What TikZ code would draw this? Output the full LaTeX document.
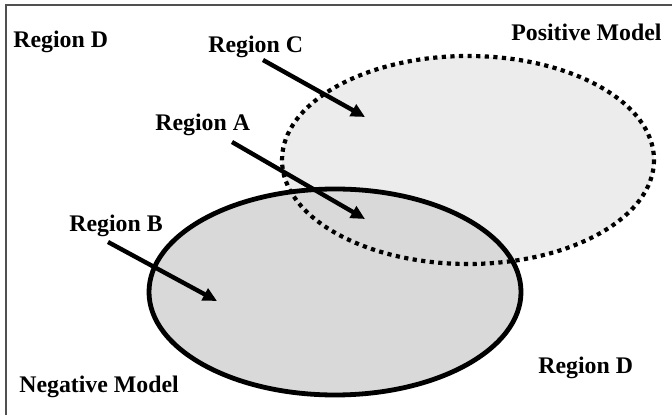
\documentclass[tikz,border=0pt]{standalone}
\usepackage{fontspec}
\setmainfont{Liberation Serif}
\usetikzlibrary{arrows.meta}
\definecolor{grisPos}{HTML}{ECECEC}
\definecolor{grisNeg}{HTML}{D9D9D9}
\definecolor{marco}{HTML}{505050}

\begin{document}
\begin{tikzpicture}[x=0.5pt,y=-0.5pt,>={Triangle[length=7pt,width=6.5pt]},
                    lbl/.style={anchor=base west,inner sep=0pt,
                      font=\fontsize{11.9}{14}\selectfont\bfseries},
                    flecha/.style={->,line width=2.2pt}]
  \useasboundingbox (0,0) rectangle (672,415);
  \draw[marco,line width=0.8pt] (6,5) rectangle (690,430);
  % the two models
  \fill[grisPos] (468,160) ellipse [x radius=186,y radius=104];
  \fill[grisNeg] (335,292) ellipse [x radius=186,y radius=103];
  \draw[line width=2.4pt] (335,292) ellipse [x radius=186,y radius=103];
  \draw[line width=2.1pt,dash pattern=on 2.1pt off 2.2pt]
    (468,160) ellipse [x radius=186,y radius=104];
  % labels
  \node[lbl] (regD1) at (13,48) {Region D};
  \node[lbl] (regC) at (208,53) {Region C};
  \node[lbl] (regA) at (155,131) {Region A};
  \node[lbl] (regB) at (69,232) {Region B};
  \node[lbl] (posModel) at (511,41) {Positive Model};
  \node[lbl] (negModel) at (19,392) {Negative Model};
  \node[lbl] (regD2) at (538,373) {Region D};
  % arrows into the regions
  \coordinate (inC) at (263,60);  \coordinate (tipC) at (365,117);
  \coordinate (inA) at (232,142); \coordinate (tipA) at (365,219);
  \coordinate (inB) at (108,242); \coordinate (tipB) at (217,301);
  \draw[flecha] (inC) -- (tipC);
  \draw[flecha] (inA) -- (tipA);
  \draw[flecha] (inB) -- (tipB);
\end{tikzpicture}
\end{document}
